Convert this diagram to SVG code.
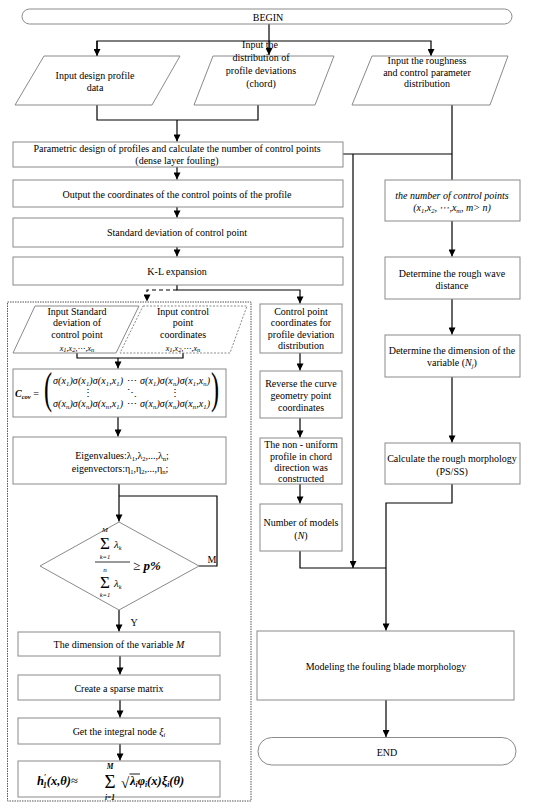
<svg xmlns="http://www.w3.org/2000/svg" width="550" height="810" viewBox="0 0 550 810">
<style>
.t{font-family:"Liberation Serif","Times New Roman",serif;font-size:10px;text-anchor:middle;fill:#000}
.i{font-style:italic}
.sb{font-size:6.5px}
.box{fill:#fff;stroke:#8a8a8a;stroke-width:1}
.ln{fill:none;stroke:#000;stroke-width:1.2}
.mx{font-family:"Liberation Serif","Times New Roman",serif;font-size:10px;font-style:italic;fill:#000}
.fm{font-family:"Liberation Serif","Times New Roman",serif;font-style:italic;fill:#000}
</style>
<defs>
<marker id="ah" viewBox="0 0 10 10" refX="10" refY="5" markerWidth="8" markerHeight="7" orient="auto" markerUnits="userSpaceOnUse"><path d="M0,0 L10,5 L0,10 z" fill="#000"/></marker>
</defs>
<rect width="550" height="810" fill="#fff"/>

<g id="connectors">
<path class="ln" d="M269,24 V55" marker-end="url(#ah)"/>
<path class="ln" d="M97,56 V41 H431 V56" marker-end="url(#ah)"/>
<path class="ln" d="M97,41 V56" marker-end="url(#ah)"/>
<path class="ln" d="M97,105 V120 H258 V105"/>
<path class="ln" d="M177,120 V141.5" marker-end="url(#ah)"/>
<path class="ln" d="M177,167 V179.5" marker-end="url(#ah)"/>
<path class="ln" d="M177,207 V217.5" marker-end="url(#ah)"/>
<path class="ln" d="M177,247 V256.5" marker-end="url(#ah)"/>
<path class="ln" d="M452,105 V180"/>
<path class="ln" d="M343,154 H452"/>
<path class="ln" d="M353,154 V568" marker-end="url(#ah)"/>
<path class="ln" d="M452,221 V256.5" marker-end="url(#ah)"/>
<path class="ln" d="M452,299 V334.5" marker-end="url(#ah)"/>
<path class="ln" d="M452,377 V442.5" marker-end="url(#ah)"/>
<path class="ln" d="M452,484 V503 H386 V630.5" marker-end="url(#ah)"/>
<path class="ln" d="M386,700 V737" marker-end="url(#ah)"/>
<path class="ln" d="M177,285 V290 H300 V303.5" marker-end="url(#ah)"/>
<path class="ln" d="M177,290 H147 V301.5" stroke-dasharray="4,3" marker-end="url(#ah)"/>
<path class="ln" d="M300,353 V370.5" marker-end="url(#ah)"/>
<path class="ln" d="M300,418 V437.5" marker-end="url(#ah)"/>
<path class="ln" d="M300,484 V503.5" marker-end="url(#ah)"/>
<path class="ln" d="M300,551 V568 H386"/>
<path class="ln" d="M77,353 V358 H183 V353"/>
<path class="ln" d="M118,358 V368.5" marker-end="url(#ah)"/>
<path class="ln" d="M118,417 V436.5" marker-end="url(#ah)"/>
<path class="ln" d="M119,484 V521.5" marker-end="url(#ah)"/>
<path class="ln" d="M199,566 H217 V496 H119"/>
<path class="ln" d="M119,610 V631.5" marker-end="url(#ah)"/>
<path class="ln" d="M120,656 V674.5" marker-end="url(#ah)"/>
<path class="ln" d="M120,700 V717.5" marker-end="url(#ah)"/>
<path class="ln" d="M120,744 V760.5" marker-end="url(#ah)"/>
<text x="212" y="563" class="t">M</text>
<text x="134" y="626" class="t">Y</text>
</g>

<g id="begin">
<rect x="22" y="9" width="490" height="15" rx="7.5" class="box"/>
<text x="268" y="20.5" class="t">BEGIN</text>
</g>

<g id="input-design">
<polygon points="44,56 180,56 152,105 15,105" class="box"/>
<text x="95" y="78.5" class="t">Input design profile</text>
<text x="95" y="90.5" class="t">data</text>
</g>

<g id="input-deviation">
<polygon points="213,56 334,56 315,105 194,105" class="box"/>
<text x="260" y="48" class="t">Input the</text>
<text x="261" y="61" class="t">distribution of</text>
<text x="261" y="74" class="t">profile deviations</text>
<text x="261" y="87" class="t">(chord)</text>
</g>

<g id="input-roughness">
<polygon points="372,56 508,56 490,105 352,105" class="box"/>
<text x="427" y="63.5" class="t">Input the roughness</text>
<text x="427" y="75.5" class="t">and control parameter</text>
<text x="427" y="87" class="t">distribution</text>
</g>

<g id="parametric">
<rect x="13" y="142" width="330" height="25" class="box"/>
<text x="177" y="151.5" class="t">Parametric design of profiles and calculate the number of control points</text>
<text x="177" y="163.5" class="t">(dense layer fouling)</text>
</g>

<g id="output-coords">
<rect x="13" y="180" width="330" height="27" class="box"/>
<text x="177" y="197.5" class="t">Output the coordinates of the control points of the profile</text>
</g>

<g id="std-dev">
<rect x="13" y="218" width="330" height="29" class="box"/>
<text x="177" y="236" class="t">Standard deviation of control point</text>
</g>

<g id="kl">
<rect x="13" y="257" width="330" height="28" class="box"/>
<text x="177" y="274.5" class="t">K-L expansion</text>
</g>

<g id="kl-container">
<rect x="7.5" y="302" width="243.5" height="499" fill="none" stroke="#555" stroke-width="1" stroke-dasharray="1.5,1"/>
</g>

<g id="input-std">
<polygon points="35,306 139,306 116,353 13,353" class="box"/>
<text x="77" y="314.5" class="t">Input Standard</text>
<text x="77" y="326" class="t">deviation of</text>
<text x="77" y="338" class="t">control point</text>
<text x="77" y="350.5" class="t i" style="font-size:8px">x<tspan class="sb" dy="1.5">1</tspan><tspan dy="-1.5">,x</tspan><tspan class="sb" dy="1.5">2</tspan><tspan dy="-1.5">,⋯,x</tspan><tspan class="sb" dy="1.5">n</tspan></text>
</g>

<g id="input-coords">
<polygon points="143,306 247,306 230,353 120,353" fill="#fff" stroke="#8a8a8a" stroke-width="1" stroke-dasharray="2,1.5"/>
<text x="183" y="314.5" class="t">Input control</text>
<text x="183" y="326" class="t">point</text>
<text x="183" y="338" class="t">coordinates</text>
<text x="183" y="350.5" class="t i" style="font-size:8px">x<tspan class="sb" dy="1.5">1</tspan><tspan dy="-1.5">,x</tspan><tspan class="sb" dy="1.5">2</tspan><tspan dy="-1.5">,⋯,x</tspan><tspan class="sb" dy="1.5">n</tspan></text>
</g>

<g id="cov-matrix">
<rect x="13" y="369" width="213" height="48" class="box"/>
<text x="15" y="397" class="mx" style="font-weight:bold">C<tspan class="sb" dy="2">cov</tspan><tspan dy="-2" style="font-style:normal;font-weight:normal"> =</tspan></text>
<text transform="translate(44,403) scale(0.55,1)" style="font-family:'Liberation Serif',serif;font-size:44px">(</text>
<text transform="translate(211,403) scale(0.55,1)" style="font-family:'Liberation Serif',serif;font-size:44px">)</text>
<text x="53" y="384" class="mx" textLength="70" lengthAdjust="spacing">σ(x<tspan class="sb" dy="1.8">1</tspan><tspan dy="-1.8">)σ(x</tspan><tspan class="sb" dy="1.8">1</tspan><tspan dy="-1.8">)σ(x</tspan><tspan class="sb" dy="1.8">1</tspan><tspan dy="-1.8">,x</tspan><tspan class="sb" dy="1.8">1</tspan><tspan dy="-1.8">)</tspan></text>
<text x="131.5" y="384" class="t">⋯</text>
<text x="140" y="384" class="mx" textLength="70" lengthAdjust="spacing">σ(x<tspan class="sb" dy="1.8">1</tspan><tspan dy="-1.8">)σ(x</tspan><tspan class="sb" dy="1.8">n</tspan><tspan dy="-1.8">)σ(x</tspan><tspan class="sb" dy="1.8">1</tspan><tspan dy="-1.8">,x</tspan><tspan class="sb" dy="1.8">n</tspan><tspan dy="-1.8">)</tspan></text>
<text x="88" y="396" class="t">⋮</text>
<text x="131.5" y="396" class="t">⋱</text>
<text x="175" y="396" class="t">⋮</text>
<text x="53" y="407" class="mx" textLength="70" lengthAdjust="spacing">σ(x<tspan class="sb" dy="1.8">n</tspan><tspan dy="-1.8">)σ(x</tspan><tspan class="sb" dy="1.8">n</tspan><tspan dy="-1.8">)σ(x</tspan><tspan class="sb" dy="1.8">n</tspan><tspan dy="-1.8">,x</tspan><tspan class="sb" dy="1.8">1</tspan><tspan dy="-1.8">)</tspan></text>
<text x="131.5" y="407" class="t">⋯</text>
<text x="140" y="407" class="mx" textLength="70" lengthAdjust="spacing">σ(x<tspan class="sb" dy="1.8">n</tspan><tspan dy="-1.8">)σ(x</tspan><tspan class="sb" dy="1.8">n</tspan><tspan dy="-1.8">)σ(x</tspan><tspan class="sb" dy="1.8">n</tspan><tspan dy="-1.8">,x</tspan><tspan class="sb" dy="1.8">1</tspan><tspan dy="-1.8">)</tspan></text>
</g>

<g id="eigen">
<rect x="13" y="437" width="213" height="47" class="box"/>
<text x="122" y="458.5" class="t">Eigenvalues:λ<tspan class="sb" dy="2">1</tspan><tspan dy="-2">,λ</tspan><tspan class="sb" dy="2">2</tspan><tspan dy="-2">,...,λ</tspan><tspan class="sb" dy="2">n</tspan><tspan dy="-2">;</tspan></text>
<text x="120" y="471.5" class="t">eigenvectors:η<tspan class="sb" dy="2">1</tspan><tspan dy="-2">,η</tspan><tspan class="sb" dy="2">2</tspan><tspan dy="-2">,...,η</tspan><tspan class="sb" dy="2">n</tspan><tspan dy="-2">;</tspan></text>
</g>

<g id="decision">
<polygon points="119,522 199,566 119,610 40,566" class="box"/>
<text x="105" y="532" class="t i" style="font-size:7px">M</text>
<text x="105" y="549" class="t" style="font-size:17px">Σ</text>
<text x="114" y="548" class="fm" style="font-size:11px">λ<tspan dy="2" style="font-size:6px">k</tspan></text>
<text x="105" y="558.5" class="t i" style="font-size:6.5px">k=1</text>
<line x1="95" y1="562" x2="130" y2="562" stroke="#000" stroke-width="0.8"/>
<text x="133" y="570" class="fm" style="font-size:13px;font-weight:bold"><tspan style="font-style:normal;font-weight:normal">≥</tspan> p%</text>
<text x="105" y="571.5" class="t i" style="font-size:7px">n</text>
<text x="105" y="588" class="t" style="font-size:17px">Σ</text>
<text x="114" y="587" class="fm" style="font-size:11px">λ<tspan dy="2" style="font-size:6px">k</tspan></text>
<text x="105" y="597" class="t i" style="font-size:6.5px">k=1</text>
</g>

<g id="dimension-m">
<rect x="18" y="632" width="202" height="24" class="box"/>
<text x="119" y="647.5" class="t">The dimension of the variable  <tspan class="i">M</tspan></text>
</g>

<g id="sparse">
<rect x="18" y="675" width="202" height="25" class="box"/>
<text x="119" y="691.5" class="t">Create a sparse matrix</text>
</g>

<g id="integral">
<rect x="18" y="718" width="202" height="26" class="box"/>
<text x="119" y="734.5" class="t">Get the integral node <tspan class="i">ξ</tspan><tspan class="sb i" dy="2">i</tspan></text>
</g>

<g id="kl-formula">
<rect x="18" y="761" width="202" height="36" class="box"/>
<text x="37" y="785" class="fm" style="font-size:12.5px;font-weight:bold">h<tspan dy="-5" style="font-size:7.5px">′</tspan><tspan dx="-3" dy="8" style="font-size:7.5px">1</tspan><tspan dy="-3">(x,θ)</tspan><tspan style="font-style:normal;font-weight:normal">≈</tspan></text>
<text x="110" y="769" class="t i" style="font-size:7.5px;font-weight:bold">M</text>
<text x="110" y="788" class="t" style="font-size:19px">Σ</text>
<text x="110" y="799.5" class="t i" style="font-size:7.5px;font-weight:bold">i=1</text>
<text x="121" y="788" class="t" style="font-size:15px;text-anchor:start">√</text>
<line x1="129.5" y1="774" x2="140" y2="774" stroke="#000" stroke-width="0.9"/>
<text x="130" y="785" class="fm" style="font-size:12.5px;font-weight:bold">λ<tspan dy="2" style="font-size:7.5px">i</tspan><tspan dy="-2">φ</tspan><tspan dy="2" style="font-size:7.5px">i</tspan><tspan dy="-2">(x)ξ</tspan><tspan dy="2" style="font-size:7.5px">i</tspan><tspan dy="-2">(θ)</tspan></text>
</g>

<g id="cp-deviation">
<rect x="260" y="304" width="82" height="49" class="box"/>
<text x="301" y="314.5" class="t">Control point</text>
<text x="301" y="326" class="t">coordinates for</text>
<text x="301" y="337.5" class="t">profile deviation</text>
<text x="301" y="349" class="t">distribution</text>
</g>

<g id="reverse">
<rect x="260" y="371" width="82" height="47" class="box"/>
<text x="301" y="386.5" class="t">Reverse the curve</text>
<text x="301" y="398.5" class="t">geometry point</text>
<text x="301" y="410.5" class="t">coordinates</text>
</g>

<g id="non-uniform">
<rect x="260" y="438" width="82" height="46" class="box"/>
<text x="301" y="448" class="t">The non - uniform</text>
<text x="301" y="459.5" class="t">profile in chord</text>
<text x="301" y="471" class="t">direction was</text>
<text x="301" y="482" class="t">constructed</text>
</g>

<g id="num-models">
<rect x="260" y="504" width="82" height="47" class="box"/>
<text x="301" y="525.5" class="t">Number of models</text>
<text x="301" y="538.5" class="t">(<tspan class="i">N</tspan>)</text>
</g>

<g id="num-cp">
<rect x="385" y="180" width="135" height="41" class="box"/>
<text x="452" y="198.5" class="t i">the number of control points</text>
<text x="452" y="210.5" class="t i">(x<tspan class="sb" dy="2">1</tspan><tspan dy="-2">,x</tspan><tspan class="sb" dy="2">2</tspan><tspan dy="-2">, ⋯,x</tspan><tspan class="sb" dy="2">m</tspan><tspan dy="-2">, m&gt; n)</tspan></text>
</g>

<g id="wave-distance">
<rect x="385" y="257" width="135" height="42" class="box"/>
<text x="452" y="276.5" class="t">Determine the rough wave</text>
<text x="452" y="288.5" class="t">distance</text>
</g>

<g id="dimension-nj">
<rect x="385" y="335" width="135" height="42" class="box"/>
<text x="452" y="353.5" class="t">Determine the dimension of the</text>
<text x="452" y="365.5" class="t">variable (<tspan class="i">N</tspan><tspan class="sb i" dy="2">j</tspan><tspan dy="-2">)</tspan></text>
</g>

<g id="rough-morph">
<rect x="385" y="443" width="135" height="41" class="box"/>
<text x="452" y="461.5" class="t">Calculate the rough morphology</text>
<text x="452" y="474.5" class="t">(PS/SS)</text>
</g>

<g id="modeling">
<rect x="257" y="631" width="257" height="69" class="box"/>
<text x="386" y="669.5" class="t">Modeling the fouling blade morphology</text>
</g>

<g id="end">
<rect x="258" y="737.5" width="258" height="27.5" rx="13.75" class="box"/>
<text x="387" y="755.5" class="t">END</text>
</g>
</svg>
